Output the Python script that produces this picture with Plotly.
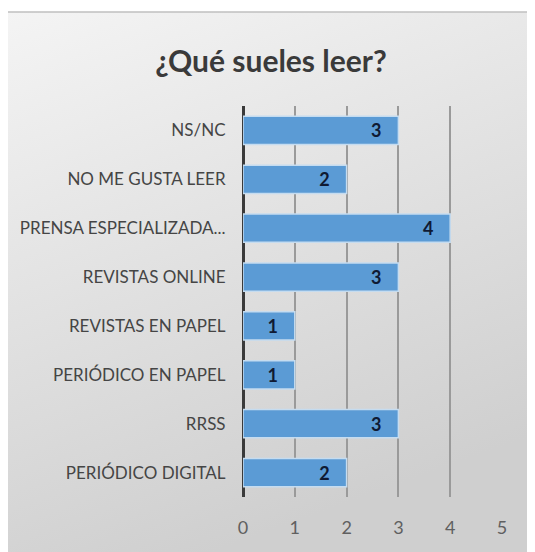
import plotly.graph_objects as go

# data (top to bottom as shown)
categories = ["NS/NC", "NO ME GUSTA LEER", "PRENSA ESPECIALIZADA...", "REVISTAS ONLINE",
              "REVISTAS EN PAPEL", "PERIÓDICO EN PAPEL", "RRSS", "PERIÓDICO DIGITAL"]
values = [3, 2, 4, 3, 1, 1, 3, 2]
x_ticks = [0, 1, 2, 3, 4, 5]

# page body has an 8px margin, so the figure is drawn from (8, 8)
OFF = 8
W, H = 535 - OFF, 552 - OFF
L, R, T, B = 243 - OFF, 33, 106 - OFF, 55
PW, PH = W - L - R, H - T - B


def px_x(p):
    return (p - OFF - L) / PW


def px_y(p):
    return (H - B - (p - OFF)) / PH


gradient_svg = (
    "data:image/svg+xml;utf8,"
    "<svg xmlns='http://www.w3.org/2000/svg' width='100' height='100' preserveAspectRatio='none'>"
    "<defs><linearGradient id='g' x1='0' y1='0' x2='0.35' y2='1'>"
    "<stop offset='0' stop-color='%23f4f4f4'/><stop offset='1' stop-color='%23cfcfcf'/>"
    "</linearGradient></defs><rect width='100' height='100' fill='url(%23g)'/></svg>"
)

fig = go.Figure(go.Bar(
    x=values,
    y=categories,
    orientation='h',
    width=0.58,
    marker=dict(color='#5b9bd5', line=dict(color='#c5dcf0', width=1.5)),
    texttemplate='<b>%{x}</b>\u00a0\u00a0\u00a0',
    textposition='inside',
    insidetextanchor='end',
    textfont=dict(color='#0f1a33', size=18, family='Lato'),
    cliponaxis=False,
))

fig.add_layout_image(dict(
    source=gradient_svg, xref='paper', yref='paper',
    x=px_x(7), y=px_y(12), sizex=px_x(533) - px_x(7), sizey=px_y(12) - px_y(560),
    sizing='stretch', layer='below', xanchor='left', yanchor='top'
))
fig.add_shape(type='rect', xref='paper', yref='paper',
              x0=px_x(7), x1=px_x(532), y0=px_y(12), y1=px_y(560),
              line=dict(color='#c0c0c0', width=1.5), layer='below')

fig.update_layout(
    width=W, height=H,
    margin=dict(l=L, r=R, t=T, b=B, autoexpand=False),
    paper_bgcolor='white',
    plot_bgcolor='rgba(0,0,0,0)',
    font=dict(family='Lato', color='#404040'),
    title=dict(text='¿Qué sueles leer?', x=(271 - OFF) / W, xref='container', xanchor='center',
               y=1 - (61 - OFF) / H, yanchor='middle',
               font=dict(size=30, color='#3a3a3a', family='Lato', weight='bold')),
    showlegend=False,
    xaxis=dict(
        range=[0, 5], tickvals=x_ticks, showgrid=True, automargin=False,
        gridcolor='#9a9a9a', gridwidth=1.5,
        zeroline=True, zerolinecolor='#3a3a3a', zerolinewidth=3,
        showline=False, ticks='outside', ticklen=14, tickcolor='rgba(0,0,0,0)',
        tickfont=dict(size=18, color='#606060'),
    ),
    yaxis=dict(
        autorange='reversed', showgrid=False, zeroline=False, showline=False,
        automargin=False,
        ticks='outside', ticklen=13, tickcolor='rgba(0,0,0,0)',
        tickfont=dict(size=17, color='#454545'),
    ),
)

fig.write_html("out.html")
